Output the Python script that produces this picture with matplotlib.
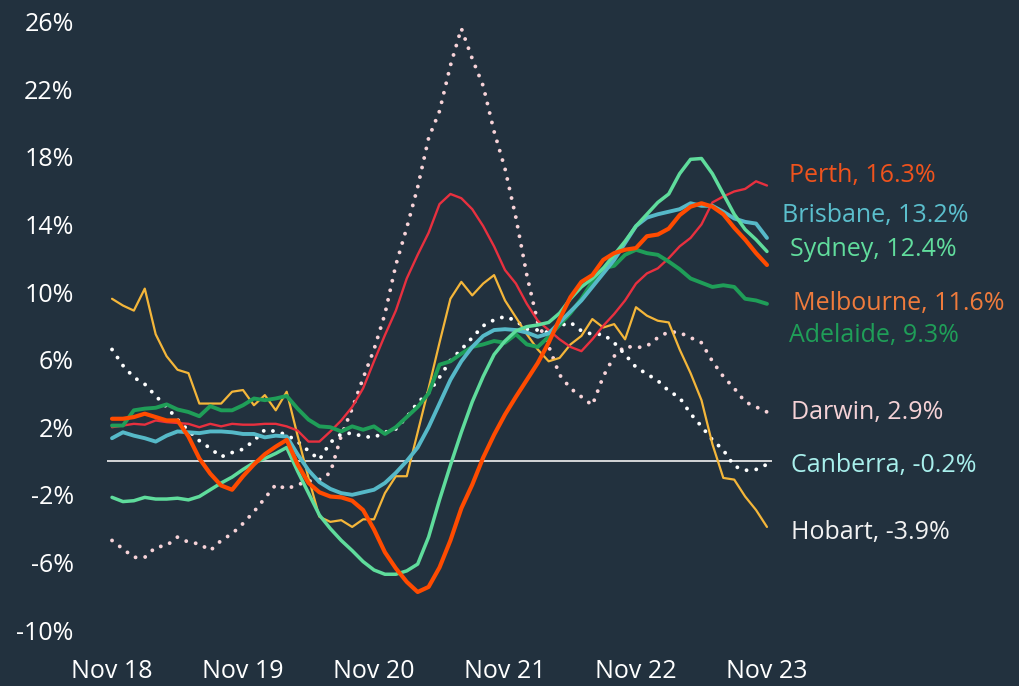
import numpy as np
import matplotlib
matplotlib.use("Agg")
import matplotlib.pyplot as plt

plt.rcParams['font.family'] = ['Open Sans', 'DejaVu Sans']

# Monthly annual growth in rents, Nov 18 .. Nov 23 (61 months)
months = np.arange(61)
tick_pos = [0, 12, 24, 36, 48, 60]
tick_labels = ["Nov 18", "Nov 19", "Nov 20", "Nov 21", "Nov 22", "Nov 23"]

perth = [2.0, 2.1, 2.2, 2.15, 2.4, 2.3, 2.25, 2.2, 2.0, 2.2, 2.05, 2.2, 2.15, 2.15, 2.2, 2.2,
         2.05, 1.8, 1.15, 1.15, 1.75, 2.4, 3.2, 4.3, 5.9, 7.45, 8.9, 10.8, 12.2, 13.5, 15.2,
         15.8, 15.55, 14.9, 13.9, 12.7, 11.3, 10.5, 9.3, 8.3, 7.75, 7.2, 6.75, 6.5, 7.2, 8.0,
         8.7, 9.5, 10.5, 11.1, 11.4, 12.0, 12.7, 13.2, 14.0, 15.3, 15.65, 15.95, 16.1, 16.55, 16.3]
brisbane = [1.35, 1.7, 1.5, 1.35, 1.15, 1.5, 1.75, 1.7, 1.65, 1.75, 1.75, 1.7, 1.6, 1.6, 1.4,
            1.5, 1.45, 0.4, -0.55, -1.25, -1.65, -1.9, -2.0, -1.85, -1.7, -1.3, -0.7, 0.0, 0.8,
            2.0, 3.4, 4.8, 5.9, 6.75, 7.4, 7.75, 7.8, 7.75, 7.6, 7.35, 7.55, 8.2, 8.85, 9.5,
            10.3, 11.1, 11.9, 12.9, 13.9, 14.4, 14.6, 14.75, 14.9, 15.25, 15.1, 15.1, 14.75,
            14.35, 14.15, 14.05, 13.2]
sydney = [-2.15, -2.4, -2.35, -2.15, -2.25, -2.25, -2.2, -2.3, -2.1, -1.7, -1.3, -0.95, -0.5,
          -0.1, 0.15, 0.45, 0.8, -0.6, -1.9, -3.2, -4.0, -4.7, -5.3, -5.95, -6.45, -6.7, -6.7,
          -6.5, -6.1, -4.5, -2.3, -0.25, 1.7, 3.5, 5.0, 6.3, 7.1, 7.7, 7.95, 8.05, 8.2, 8.75,
          9.6, 10.3, 10.8, 11.4, 12.2, 13.0, 13.9, 14.6, 15.3, 15.8, 17.0, 17.85, 17.9, 17.0,
          15.8, 14.6, 13.7, 13.1, 12.4]
melbourne = [2.5, 2.5, 2.6, 2.8, 2.6, 2.4, 2.4, 1.45, 0.15, -0.75, -1.45, -1.7, -0.9, -0.2,
             0.4, 0.85, 1.25, -0.2, -1.3, -1.85, -2.1, -2.15, -2.35, -2.9, -4.05, -5.4, -6.35,
             -7.15, -7.75, -7.45, -6.3, -4.7, -2.8, -1.4, 0.2, 1.55, 2.75, 3.8, 4.8, 5.8, 7.0,
             8.4, 9.7, 10.6, 11.0, 11.9, 12.3, 12.5, 12.6, 13.3, 13.4, 13.75, 14.55, 15.05,
             15.25, 15.05, 14.6, 13.8, 13.1, 12.3, 11.6]
adelaide = [2.1, 2.1, 3.0, 3.1, 3.15, 3.35, 3.05, 2.9, 2.65, 3.25, 3.0, 3.0, 3.3, 3.7, 3.6,
            3.7, 3.85, 3.1, 2.45, 2.05, 2.0, 1.75, 2.05, 1.85, 2.05, 1.6, 2.0, 2.6, 3.2, 4.0,
            5.7, 5.9, 6.35, 6.75, 6.9, 7.1, 7.0, 7.5, 6.9, 6.75, 7.35, 8.05, 8.75, 9.6, 10.6,
            11.4, 11.55, 12.2, 12.5, 12.3, 12.2, 11.8, 11.35, 10.8, 10.55, 10.3, 10.4, 10.3,
            9.6, 9.5, 9.3]
darwin = [-4.7, -5.2, -5.7, -5.7, -5.1, -5.0, -4.5, -4.8, -4.9, -5.3, -4.7, -4.3, -3.7, -3.0,
          -2.2, -1.4, -1.65, -1.4, -1.2, -1.1, -0.7, 1.5, 3.1, 4.9, 6.6, 8.7, 11.6, 13.8, 16.2,
          19.1, 20.7, 23.4, 25.6, 23.8, 22.2, 19.5, 17.3, 14.4, 11.0, 8.2, 6.8, 5.1, 4.3, 3.8,
          3.3, 5.0, 6.2, 6.8, 6.7, 6.8, 7.3, 7.65, 7.6, 7.3, 7.0, 5.9, 5.0, 4.3, 3.5, 3.2, 2.9]
canberra = [6.6, 5.65, 4.95, 4.55, 3.85, 3.2, 2.45, 1.8, 1.2, 0.75, 0.25, 0.5, 0.7, 1.2, 1.85,
            1.75, 1.55, 1.15, 0.6, 0.08, 1.1, 1.6, 1.65, 1.45, 1.4, 1.7, 1.9, 2.6, 3.45, 4.05,
            4.95, 5.95, 6.6, 7.3, 8.0, 8.35, 8.55, 8.3, 7.8, 7.75, 7.6, 8.0, 8.2, 7.7, 7.5, 7.5,
            7.0, 6.3, 5.55, 5.15, 4.75, 4.15, 3.75, 2.8, 2.05, 1.25, 0.65, -0.3, -0.55, -0.5, -0.2]
hobart = [9.6, 9.2, 8.9, 10.2, 7.5, 6.2, 5.4, 5.2, 3.4, 3.4, 3.4, 4.1, 4.2, 3.3, 3.9, 3.0, 4.1,
          1.5, -1.0, -3.3, -3.6, -3.5, -3.9, -3.45, -3.45, -1.9, -0.9, -0.9, 1.7, 4.3, 7.0, 9.6,
          10.6, 9.8, 10.5, 11.0, 9.5, 8.5, 7.5, 6.6, 5.9, 6.1, 6.9, 7.4, 8.4, 7.9, 8.1, 7.2, 9.1,
          8.6, 8.3, 8.2, 6.6, 5.2, 3.6, 1.0, -1.0, -1.1, -2.1, -2.9, -3.9]

bg = "#22313e"
dots = (0, (0.01, 2.5))

fig = plt.figure(figsize=(10.2, 6.86), dpi=100, facecolor=bg)
ax = fig.add_axes([107 / 1020, 46 / 686, 665 / 1020, 625 / 686], facecolor=bg)

ax.axhline(0, color="#d4d6d8", lw=1.4, zorder=1)

# (series, colour, width, style, label text, label colour, label y, label x)
series = [
    (darwin, "#f7d3d8", 2.8, dots, "Darwin, 2.9%", "#f5d2d6", 2.9, 62.2),
    (canberra, "#ffffff", 2.8, dots, "Canberra, -0.2%", "#a8efec", -0.25, 62.2),
    (hobart, "#f4b63a", 1.6, "-", "Hobart, -3.9%", "#f2f2f2", -4.2, 62.2),
    (perth, "#e8303f", 1.7, "-", "Perth, 16.3%", "#f0531d", 16.9, 62.0),
    (adelaide, "#1f9e58", 2.8, "-", "Adelaide, 9.3%", "#1f9e58", 7.4, 62.0),
    (brisbane, "#56b9c8", 2.8, "-", "Brisbane, 13.2%", "#5bbfcd", 14.5, 61.4),
    (sydney, "#5fdc9c", 2.5, "-", "Sydney, 12.4%", "#61dd9d", 12.5, 62.1),
    (melbourne, "#ff4b00", 3.0, "-", "Melbourne, 11.6%", "#ef7b3c", 9.3, 62.4),
]

for vals, col, lw, ls, text, tcol, ty, tx in series:
    ax.plot(months, vals, color=col, lw=lw, linestyle=ls,
            solid_capstyle="round", dash_capstyle="round", solid_joinstyle="round", zorder=3)

for vals, col, lw, ls, text, tcol, ty, tx in series:
    ax.text(tx, ty, text, color=tcol, fontsize=18, va="center", ha="left", clip_on=False)

ax.set_xlim(-0.46, 60.46)
ax.set_ylim(-10.59, 26.39)
ax.set_yticks(np.arange(-10, 27, 4))
ax.set_yticklabels([f"{v}%" for v in np.arange(-10, 27, 4)])
ax.set_xticks(tick_pos)
ax.set_xticklabels(tick_labels)
ax.tick_params(axis="both", length=0, colors="white", labelsize=18)
ax.tick_params(axis="y", pad=24)
ax.tick_params(axis="x", pad=14)
for s in ax.spines.values():
    s.set_visible(False)

fig.savefig("out.png", dpi=100, facecolor=bg)
